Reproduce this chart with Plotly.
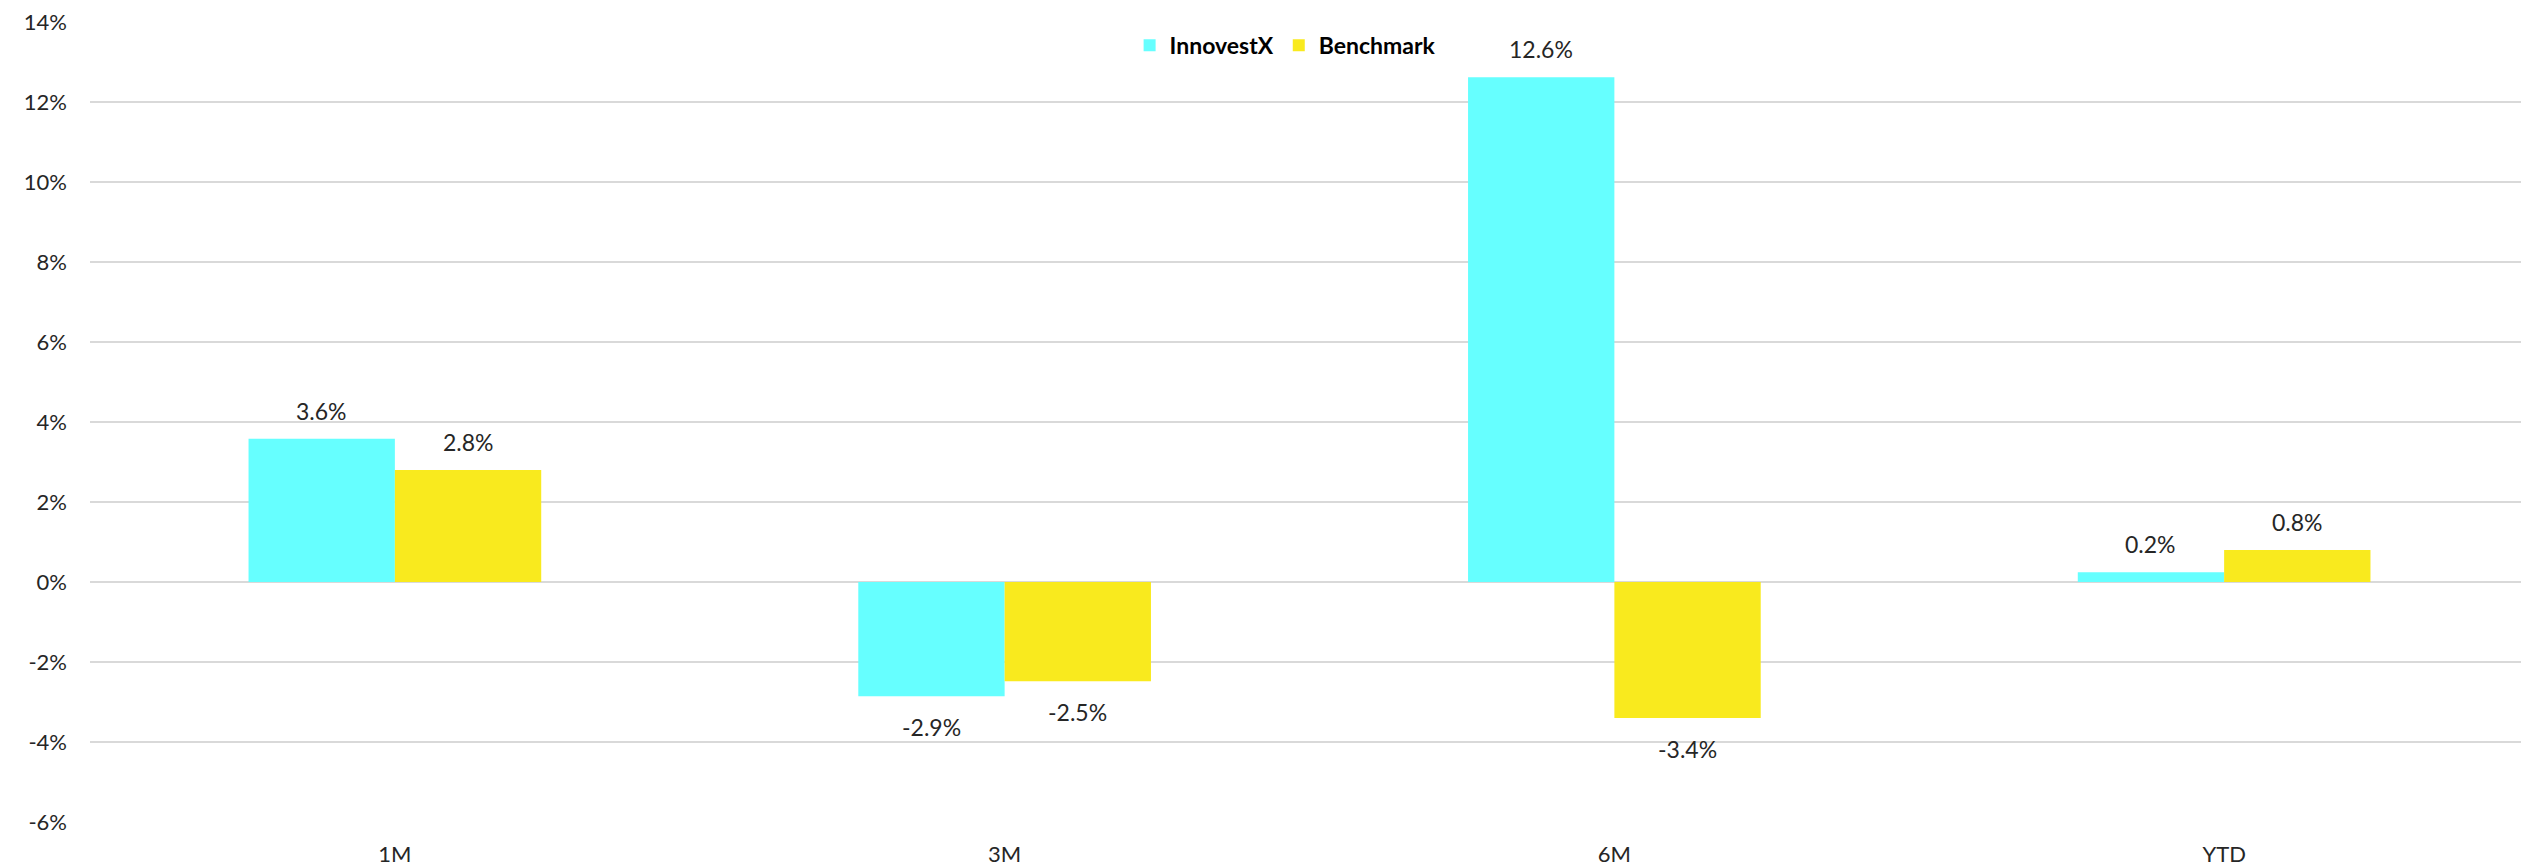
import plotly.graph_objects as go

categories = ["1M", "3M", "6M", "YTD"]
innovestx = [3.58, -2.86, 12.62, 0.24]
benchmark = [2.80, -2.48, -3.40, 0.80]
y_ticks = [-6, -4, -2, 0, 2, 4, 6, 8, 10, 12, 14]

CYAN = "#66FFFF"
YELLOW = "#F9EA1E"
TEXT = "#262626"
FONT = "Lato"

fig = go.Figure()
fig.add_trace(go.Bar(name="InnovestX", x=categories, y=innovestx, marker=dict(color=CYAN, line=dict(width=0))))
fig.add_trace(go.Bar(name="Benchmark", x=categories, y=benchmark, marker=dict(color=YELLOW, line=dict(width=0))))

# page body has an 8px default margin; compensate so the plot lands where the reference has it
W, H = 2521, 859
ml, mr, mt, mb = 82, 0, 13, 43
plot_w = W - ml - mr
bargap = 0.52
bar_px = plot_w / len(categories) * (1 - bargap) / 2

annotations = []
for series, sign in ((innovestx, -1), (benchmark, 1)):
    for c, v in zip(categories, series):
        pos = v >= 0
        annotations.append(dict(
            x=c, y=v, xref="x", yref="y", text=f"{v:.1f}%", showarrow=False,
            xshift=sign * bar_px / 2,
            yanchor="bottom" if pos else "top",
            yshift=12 if pos else -15,
            font=dict(family=FONT, size=23, color=TEXT),
        ))

fig.update_layout(
    width=W, height=H,
    margin=dict(l=ml, r=mr, t=mt, b=mb, pad=0),
    paper_bgcolor="white", plot_bgcolor="white",
    barmode="group", bargap=bargap, bargroupgap=0,
    font=dict(family=FONT, size=22, color=TEXT),
    legend=dict(orientation="h", x=0.49, xanchor="center", y=0.971, yanchor="middle",
                font=dict(family=FONT, size=23, color="#000000", weight="bold"),
                bgcolor="rgba(0,0,0,0)", traceorder="normal", itemwidth=30),
    annotations=annotations,
    showlegend=True,
)
fig.update_yaxes(
    range=[-6.002, 14.002], tickvals=y_ticks, ticktext=[f"{t}%" for t in y_ticks],
    showgrid=True, gridcolor="#D9D9D9", gridwidth=2,
    zeroline=True, zerolinecolor="#D9D9D9", zerolinewidth=2,
    showline=False, ticks="", ticklabelstandoff=22, ticklabeloverflow="allow",
    tickfont=dict(family=FONT, size=22, color=TEXT),
)
fig.update_xaxes(
    showgrid=False, showline=False, ticks="", ticklabelstandoff=17,
    tickfont=dict(family=FONT, size=22, color=TEXT),
)

fig.write_html("out.html")
